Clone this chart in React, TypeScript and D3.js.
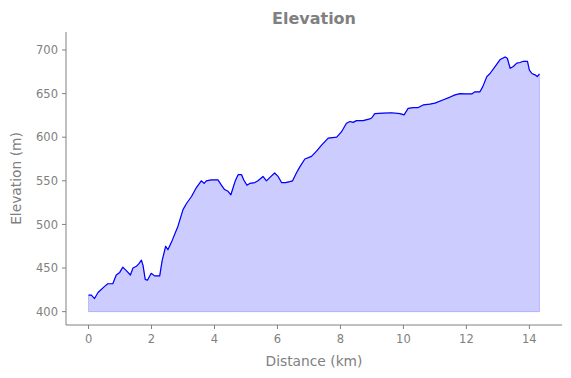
import React from "react";
import * as d3 from "d3";

const distanceKm: number[] = [
  0, 0.09, 0.19, 0.3, 0.51, 0.61, 0.77, 0.88, 0.99, 1.09, 1.2, 1.33, 1.41, 1.52, 1.6, 1.68, 1.73, 1.8, 1.87, 1.99,
  2.1, 2.26, 2.34, 2.45, 2.52, 2.66, 2.84, 3.0, 3.11, 3.27, 3.42, 3.58, 3.67, 3.74, 3.9, 4.11, 4.22, 4.32, 4.43, 4.52,
  4.59, 4.66, 4.75, 4.86, 4.93, 5.03, 5.12, 5.28, 5.38, 5.54, 5.65, 5.76, 5.91, 6.02, 6.13, 6.26, 6.39, 6.48, 6.6, 6.71,
  6.87, 7.08, 7.24, 7.4, 7.61, 7.88, 8.03, 8.19, 8.3, 8.4, 8.51, 8.72, 8.93, 8.99, 9.09, 9.36, 9.62, 9.89, 10.02, 10.15,
  10.31, 10.47, 10.63, 10.84, 11.0, 11.27, 11.48, 11.64, 11.8, 11.96, 12.17, 12.27, 12.43, 12.52, 12.65, 12.75, 12.91,
  13.07, 13.23, 13.3, 13.39, 13.49, 13.6, 13.7, 13.81, 13.94, 14.0, 14.08, 14.18, 14.25, 14.32,
];

const elevationM: number[] = [
  419, 419, 415, 422, 429, 432, 432, 442, 445, 451, 447, 442, 450, 452, 455, 459, 453, 437, 436, 444,
  441, 441, 459, 475, 471, 482, 498, 517, 524, 532, 542, 550, 547, 550, 551, 551, 545, 540, 538, 534,
  542, 550, 557, 557, 551, 545, 547, 548, 550, 555, 550, 554, 559, 555, 548, 548, 549, 550, 559, 566,
  575, 578, 584, 591, 599, 600, 606, 616, 618, 617, 619, 619, 621, 622, 627, 627.5, 628, 627, 625.6, 633,
  634, 634, 637, 638, 639, 643, 646, 648.5, 650, 649.6, 649.6, 652, 652, 658, 669.5, 673, 681,
  689, 692, 690.5, 679, 681, 685, 685.6, 687, 687, 677, 673, 671.5, 669.5, 672.6,
];

const xTicks: number[] = [0, 2, 4, 6, 8, 10, 12, 14];
const yTicks: number[] = [400, 450, 500, 550, 600, 650, 700];
const baseline = 400;

const W = 571;
const H = 378;
const left = 66;
const right = 562;
const top = 32;
const bottom = 325;
const gray = "#808080";
const font = "DejaVu Sans, sans-serif";

export default function App() {
  const pts = distanceKm.map((d, i) => [d, elevationM[i]] as [number, number]);
  const xMax = d3.max(distanceKm) as number;
  const xm = xMax * 0.05;
  const x = d3.scaleLinear().domain([-xm, xMax + xm]).range([left, right]);
  const y = d3.scaleLinear().domain([384.7, 720.6]).range([bottom, top]);

  const line = d3
    .line<[number, number]>()
    .x((p) => x(p[0]))
    .y((p) => y(p[1]));
  const area = d3
    .area<[number, number]>()
    .x((p) => x(p[0]))
    .y0(() => y(baseline))
    .y1((p) => y(p[1]));

  return (
    <svg
      width={W}
      height={H}
      style={{ position: "fixed", left: 0, top: 0, display: "block", background: "#fff" }}
      fontFamily={font}
    >
      <path d={area(pts) || ""} fill="rgba(0,0,255,0.2)" stroke="rgba(0,0,255,0.2)" strokeWidth={1} />
      <path d={line(pts) || ""} fill="none" stroke="#0000ff" strokeWidth={1.2} strokeLinejoin="round" />

      {/* spines */}
      <line x1={left} x2={left} y1={top} y2={bottom} stroke={gray} strokeWidth={1} />
      <line x1={left} x2={right} y1={bottom} y2={bottom} stroke={gray} strokeWidth={1} />

      {xTicks.map((t) => (
        <g key={"x" + t}>
          <line x1={x(t)} x2={x(t)} y1={bottom} y2={bottom + 4} stroke={gray} strokeWidth={1} />
          <text x={x(t)} y={bottom + 18} textAnchor="middle" fontSize={11.5} fill={gray}>
            {t}
          </text>
        </g>
      ))}
      {yTicks.map((t) => (
        <g key={"y" + t}>
          <line x1={left - 4} x2={left} y1={y(t)} y2={y(t)} stroke={gray} strokeWidth={1} />
          <text x={left - 8} y={y(t)} dy="0.36em" textAnchor="end" fontSize={11.5} fill={gray}>
            {t}
          </text>
        </g>
      ))}

      <text x={(left + right) / 2} y={366} textAnchor="middle" fontSize={13.8} fill={gray}>
        Distance (km)
      </text>
      <text
        transform={`translate(${21},${(top + bottom) / 2}) rotate(-90)`}
        textAnchor="middle"
        fontSize={13.8}
        fill={gray}
      >
        Elevation (m)
      </text>
      <text x={(left + right) / 2} y={24} textAnchor="middle" fontSize={16} fontWeight="bold" fill={gray}>
        Elevation
      </text>
    </svg>
  );
}
